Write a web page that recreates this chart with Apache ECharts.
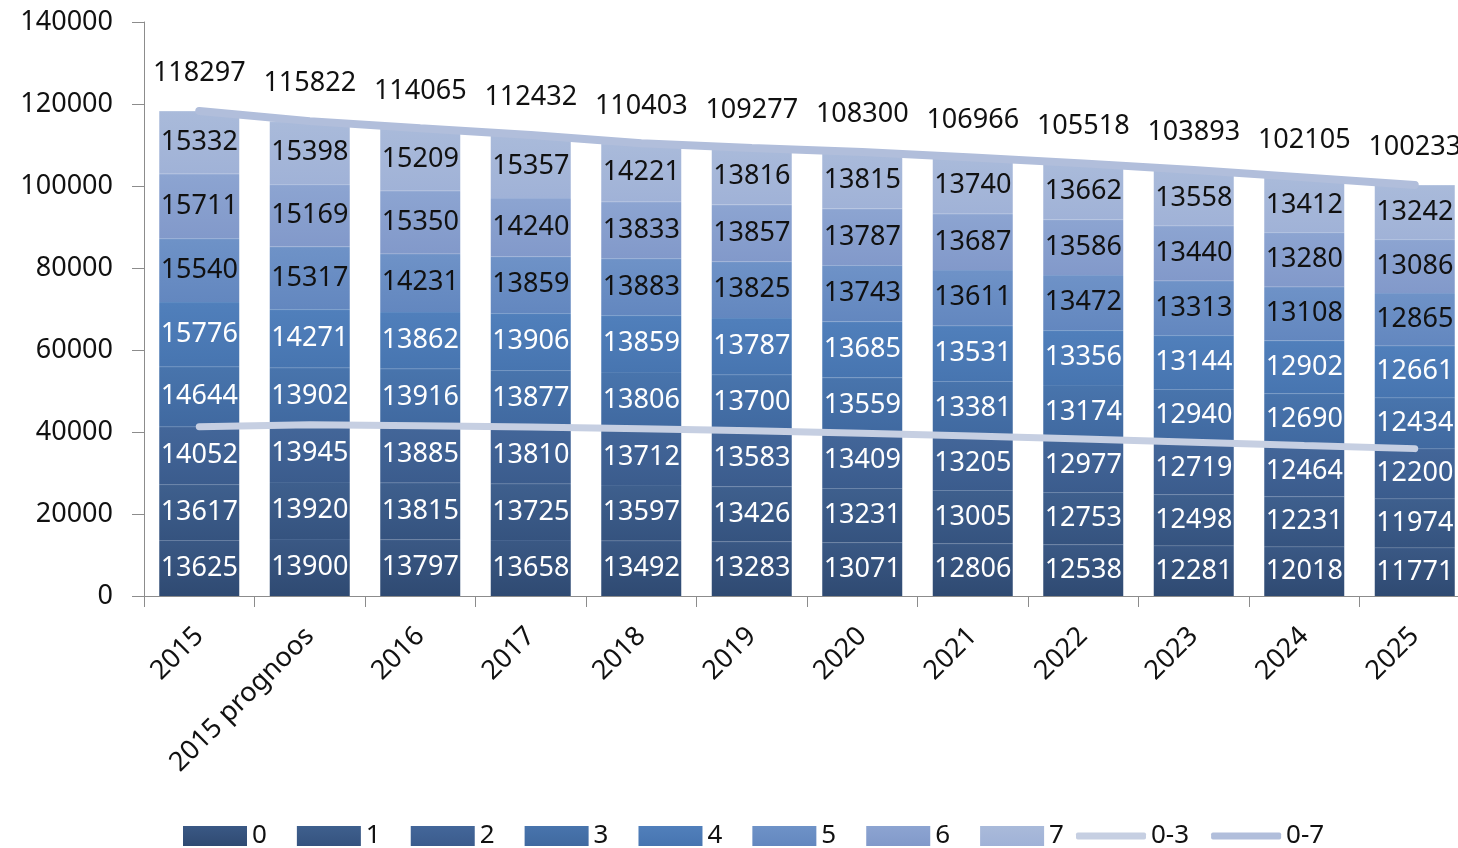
<!DOCTYPE html>
<html>
<head>
<meta charset="utf-8">
<script src="https://cdn.jsdelivr.net/npm/echarts@6/dist/echarts.min.js"></script>
<style>
html,body{margin:0;padding:0;background:#fff;overflow:hidden;width:1458px;height:848px;}
#c{width:1490px;height:848px;}
</style>
</head>
<body>
<div id="c"></div>
<script>
const categories = ['2015','2015 prognoos','2016','2017','2018','2019','2020','2021','2022','2023','2024','2025'];
const seriesNames = ['0','1','2','3','4','5','6','7'];
const age0 = [13625,13900,13797,13658,13492,13283,13071,12806,12538,12281,12018,11771];
const age1 = [13617,13920,13815,13725,13597,13426,13231,13005,12753,12498,12231,11974];
const age2 = [14052,13945,13885,13810,13712,13583,13409,13205,12977,12719,12464,12200];
const age3 = [14644,13902,13916,13877,13806,13700,13559,13381,13174,12940,12690,12434];
const age4 = [15776,14271,13862,13906,13859,13787,13685,13531,13356,13144,12902,12661];
const age5 = [15540,15317,14231,13859,13883,13825,13743,13611,13472,13313,13108,12865];
const age6 = [15711,15169,15350,14240,13833,13857,13787,13687,13586,13440,13280,13086];
const age7 = [15332,15398,15209,15357,14221,13816,13815,13740,13662,13558,13412,13242];
const line03 = [41294,41765,41497,41193,40801,40292,39711,39016,38268,37498,36713,35945];
const line07 = [118297,115822,114065,112432,110403,109277,108300,106966,105518,103893,102105,100233];
const yTicks = {min:0, max:140000, interval:20000};

const ageData = [age0,age1,age2,age3,age4,age5,age6,age7];
const colTop = ['#3a5884','#3e5f8d','#436699','#4874ac','#507fbb','#6e92c7','#8ca4d1','#a9bada'];
const colBot = ['#2f4a72','#35537f','#3b5c8d','#4069a0','#4775b0','#6387bf','#8299ca','#a0b2d7'];
const colLine = ['#4d6a95','#51709c','#5577a6','#5b84b8','#6590c5','#86a3d0','#a1b5da','#bccae3'];
const labelCol = ['#fff','#fff','#fff','#fff','#fff','#111','#111','#111'];
const FONT = 'Noto Sans';
const FS = 27;

const series = ageData.map((d,i)=>({
  name: seriesNames[i],
  type:'bar',
  stack:'total',
  barWidth:80,
  data:d,
  itemStyle:{
    color:{type:'linear',x:0,y:0,x2:0,y2:1,colorStops:[
      {offset:0,color:colLine[i]},{offset:0.025,color:colTop[i]},{offset:1,color:colBot[i]}
    ]}
  },
  label:{show:true,position:'inside',color:labelCol[i],fontFamily:FONT,fontSize:FS},
  emphasis:{disabled:true}
}));
series.push({
  name:'0-3',type:'line',data:line03,symbol:'none',z:5,
  lineStyle:{color:'#c6cfe2',width:7,cap:'round'},
  itemStyle:{color:'#c6cfe2'},
  emphasis:{disabled:true}
});
series.push({
  name:'0-7',type:'line',data:line07,symbol:'circle',symbolSize:2,showSymbol:true,z:5,
  lineStyle:{color:'#b1bedb',width:8,cap:'round'},
  itemStyle:{color:'#b1bedb'},
  label:{show:true,position:'top',distance:23,color:'#111',fontFamily:FONT,fontSize:FS},
  labelLayout:{hideOverlap:false},
  emphasis:{disabled:true}
});

const chart = echarts.init(document.getElementById('c'),null,{renderer:'canvas'});
chart.setOption({
  animation:false,
  backgroundColor:'#fff',
  textStyle:{fontFamily:FONT},
  grid:{left:144,top:22,width:1326,height:574,containLabel:false},
  legend:[{
    data:seriesNames,left:178,top:818,itemWidth:64,itemHeight:20,itemGap:30,icon:'rect',
    textStyle:{fontFamily:FONT,fontSize:26,color:'#111',lineHeight:20},
    selectedMode:false
  },{
    data:['0-3','0-7'],left:1071,top:818,itemWidth:70,itemHeight:7,itemGap:22,icon:'roundRect',
    textStyle:{fontFamily:FONT,fontSize:26,color:'#111',lineHeight:20},
    selectedMode:false
  }],
  xAxis:{
    type:'category',data:categories,boundaryGap:true,
    axisLine:{lineStyle:{color:'#8c8c8c',width:1}},
    axisTick:{show:true,length:11,lineStyle:{color:'#8c8c8c'}},
    axisLabel:{rotate:45,margin:36,fontFamily:FONT,fontSize:FS,color:'#111',interval:0}
  },
  yAxis:{
    type:'value',min:yTicks.min,max:yTicks.max,interval:yTicks.interval,
    axisLine:{show:true,lineStyle:{color:'#8c8c8c',width:1}},
    axisTick:{show:true,length:12,lineStyle:{color:'#8c8c8c'}},
    splitLine:{show:false},
    axisLabel:{margin:31,fontFamily:FONT,fontSize:FS,color:'#111',formatter:v=>String(v)}
  },
  series:series
});
</script>
</body>
</html>
